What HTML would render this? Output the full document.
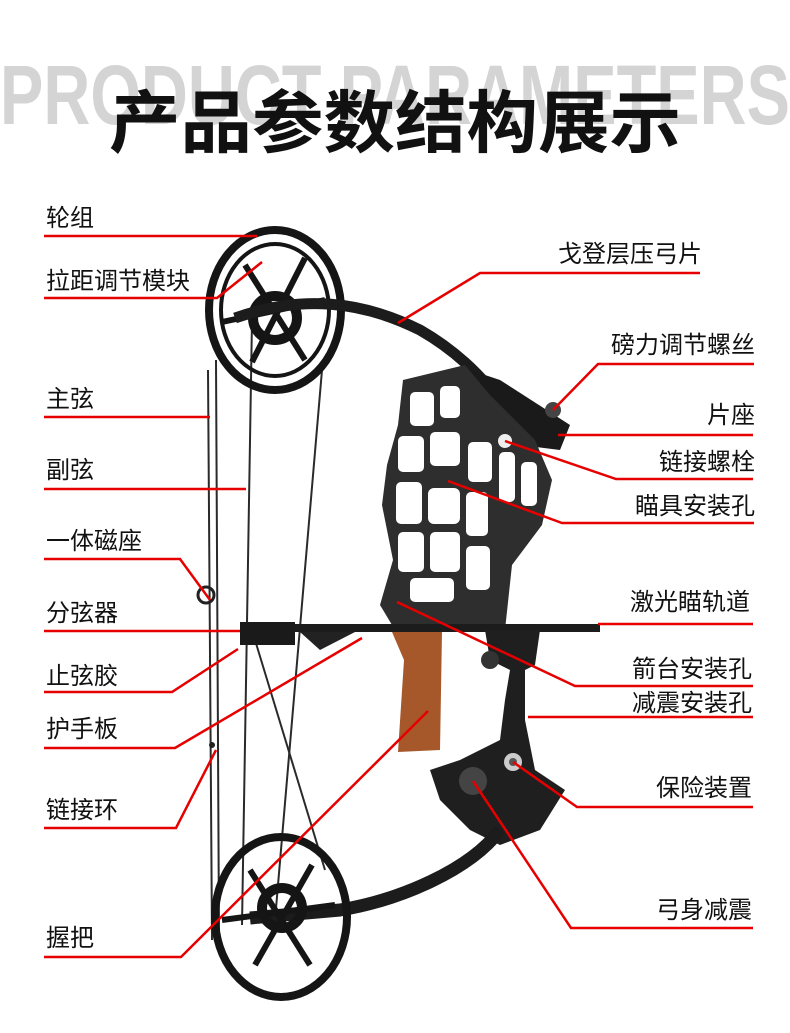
<!DOCTYPE html>
<html><head><meta charset="utf-8"><style>
html,body{margin:0;padding:0;background:#fff;}
body{width:790px;height:1033px;overflow:hidden;position:relative;}
svg{position:absolute;left:0;top:0;}
.l{font-family:"Liberation Sans","Noto Sans CJK SC",sans-serif;font-size:24px;fill:#111;}
</style></head><body>
<svg width="790" height="1033" viewBox="0 0 790 1033" xmlns="http://www.w3.org/2000/svg">
<text x="0" y="124" textLength="790" lengthAdjust="spacingAndGlyphs" font-family="Liberation Sans, sans-serif" font-weight="bold" font-size="84" fill="#d4d4d4">PRODUCT PARAMETERS</text>
<text x="395" y="147" text-anchor="middle" textLength="572" lengthAdjust="spacingAndGlyphs" font-family="Liberation Sans, Noto Sans CJK SC, sans-serif" font-weight="bold" font-size="68" fill="#111">产品参数结构展示</text>

<!-- strings -->
<g stroke="#2a2a2a" stroke-width="2" fill="none">
<line x1="208" y1="370" x2="212" y2="940"/>
<line x1="216" y1="360" x2="219" y2="935"/>
<line x1="252" y1="320" x2="242" y2="925"/>
<line x1="322" y1="370" x2="275" y2="920"/>
<line x1="255" y1="640" x2="325" y2="870"/>
</g>

<!-- upper cam -->
<g fill="none" stroke="#151515">
<ellipse cx="275" cy="310" rx="66" ry="80" stroke-width="8"/>
<ellipse cx="275" cy="310" rx="54" ry="66" stroke-width="4"/>
<path d="M245 265 L305 360 M305 258 L252 362 M222 322 L325 300" stroke-width="6"/>
<circle cx="275" cy="318" r="22" stroke-width="10"/>
</g>
<!-- upper limb -->
<path d="M235 318 C300 295 360 300 420 330 C455 350 480 375 495 395" fill="none" stroke="#1c1c1c" stroke-width="11"/>
<!-- limb pocket -->
<path d="M470 370 L500 380 L570 425 L560 450 L520 445 L480 410 Z" fill="#1a1a1a"/>
<circle cx="553" cy="410" r="8" fill="#444"/>

<!-- riser cage -->
<path d="M465 365 L490 395 L535 440 L552 480 L542 525 L512 565 L505 630 L395 630 L380 605 L393 560 L382 505 L387 465 L398 425 L403 380 Z" fill="#2e2e2e"/>
<g fill="#fff">
<rect x="410" y="392" width="24" height="34" rx="5"/>
<rect x="440" y="386" width="20" height="32" rx="5"/>
<rect x="398" y="436" width="26" height="36" rx="5"/>
<rect x="430" y="432" width="30" height="34" rx="5"/>
<rect x="468" y="442" width="24" height="40" rx="5"/>
<rect x="396" y="482" width="26" height="42" rx="5"/>
<rect x="428" y="488" width="32" height="36" rx="6"/>
<rect x="466" y="492" width="22" height="44" rx="5"/>
<rect x="499" y="452" width="16" height="50" rx="5"/>
<rect x="521" y="462" width="16" height="44" rx="5"/>
<rect x="398" y="532" width="26" height="40" rx="5"/>
<rect x="430" y="532" width="30" height="40" rx="5"/>
<rect x="466" y="546" width="24" height="44" rx="5"/>
<rect x="410" y="578" width="44" height="24" rx="5"/>
</g>
<circle cx="505" cy="441" r="7" fill="#eee"/>

<!-- rail -->
<rect x="240" y="624" width="360" height="8" fill="#1c1c1c"/>
<path d="M240 622 L295 622 L295 645 L240 645 Z" fill="#1a1a1a"/>
<path d="M300 632 L355 632 L320 650 Z" fill="#222"/>
<!-- grip -->
<path d="M392 632 L442 632 L440 750 L398 752 L404 660 Z" fill="#a6582a"/>
<!-- lower riser -->
<path d="M485 630 L540 630 L535 665 L525 670 L525 720 L535 770 L565 790 L540 830 L500 845 L470 830 L440 800 L430 770 L460 760 L500 740 L505 700 L510 670 L490 660 Z" fill="#1f1f1f"/>
<circle cx="490" cy="660" r="9" fill="#333"/>
<circle cx="473" cy="781" r="14" fill="#444"/>
<circle cx="513" cy="762" r="9" fill="#ccc"/>
<circle cx="513" cy="762" r="4" fill="#555"/>
<!-- lower limb -->
<path d="M500 830 C470 870 400 900 340 910 L250 918" fill="none" stroke="#1c1c1c" stroke-width="13"/>
<!-- lower cam -->
<g fill="none" stroke="#151515">
<ellipse cx="281" cy="917" rx="66" ry="80" stroke-width="8"/>
<path d="M250 870 L310 965 M312 865 L255 965 M222 920 L335 905" stroke-width="6"/>
<circle cx="282" cy="908" r="20" stroke-width="10"/>
</g>
<circle cx="206" cy="595" r="8" fill="none" stroke="#222" stroke-width="3"/>
<circle cx="212" cy="745" r="3" fill="#222"/>

<!-- red lines -->
<g stroke="#e60000" stroke-width="2.5" fill="none">
<polyline points="44,236 257,236"/>
<polyline points="44,298 217,298 262,262"/>
<polyline points="44,417 210,417"/>
<polyline points="44,489 246,489"/>
<polyline points="44,559 180,559 210,600"/>
<polyline points="44,631 240,631"/>
<polyline points="44,692 172,692 238,649"/>
<polyline points="44,748 175,748 362,638"/>
<polyline points="44,828 176,828 216,750"/>
<polyline points="44,957 181,957 428,711"/>
<polyline points="700,273 480,273 398,323"/>
<polyline points="754,364 598,364 553,410"/>
<polyline points="753,435 558,435"/>
<polyline points="753,479 616,479 505,441"/>
<polyline points="754,523 562,523 448,481"/>
<polyline points="753,624 598,624"/>
<polyline points="753,686 575,686 397,602"/>
<polyline points="753,717 528,717"/>
<polyline points="753,807 577,807 513,762"/>
<polyline points="753,928 571,928 473,781"/>
</g>

<!-- labels -->
<g class="l">
<text x="46" y="226">轮组</text>
<text x="46" y="289">拉距调节模块</text>
<text x="46" y="407">主弦</text>
<text x="46" y="478">副弦</text>
<text x="46" y="549">一体磁座</text>
<text x="46" y="621">分弦器</text>
<text x="46" y="684">止弦胶</text>
<text x="46" y="737">护手板</text>
<text x="46" y="818">链接环</text>
<text x="46" y="946">握把</text>
</g>
<g class="l" text-anchor="end">
<text x="702" y="262">戈登层压弓片</text>
<text x="755" y="353">磅力调节螺丝</text>
<text x="755" y="423">片座</text>
<text x="755" y="470">链接螺栓</text>
<text x="755" y="514">瞄具安装孔</text>
<text x="750" y="610">激光瞄轨道</text>
<text x="752" y="677">箭台安装孔</text>
<text x="752" y="711">减震安装孔</text>
<text x="752" y="796">保险装置</text>
<text x="752" y="918">弓身减震</text>
</g>
</svg>
</body></html>
